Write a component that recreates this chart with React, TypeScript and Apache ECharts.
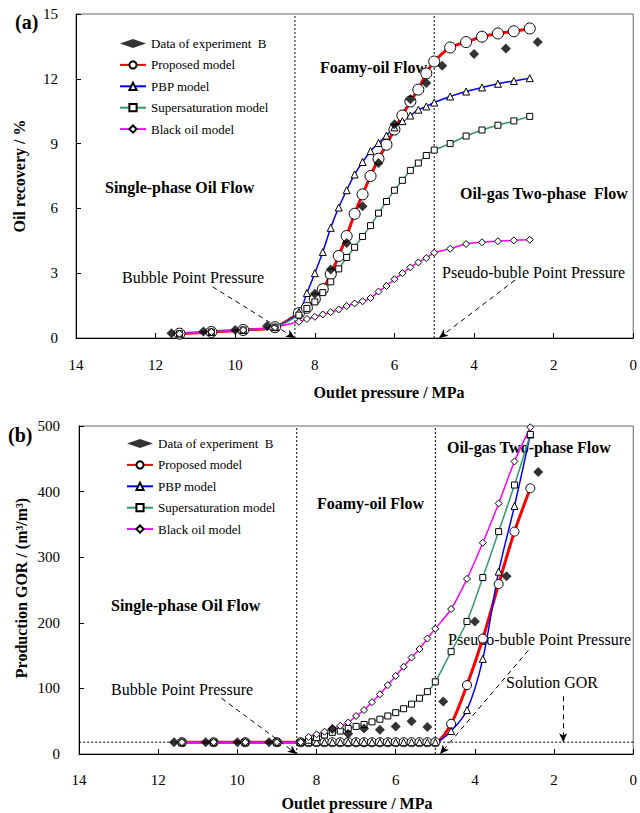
import React, { useEffect, useRef } from "react";
import * as echarts from "echarts";

// ---------- Data (a): Oil recovery ----------
const expP_a = [11.6, 10.8, 10.0, 9.2, 8.0, 7.6, 7.2, 6.8, 6.4, 6.0, 5.6, 5.2, 4.8, 4.0, 3.2, 2.4];
const expV_a = [0.22, 0.3, 0.37, 0.55, 2.05, 3.17, 4.4, 6.1, 8.1, 9.9, 11.05, 11.8, 12.6, 13.15, 13.4, 13.7];

const modelP = [11.4, 10.6, 9.8, 9.0, 8.4, 8.2, 8.0, 7.8, 7.6, 7.4, 7.2, 7.0, 6.8, 6.6, 6.4, 6.2, 6.0, 5.8, 5.6, 5.4, 5.2, 5.0, 4.6, 4.2, 3.8, 3.4, 3.0, 2.6];
const proposed_a = [0.2, 0.28, 0.37, 0.5, 1.15, 1.4, 1.8, 2.26, 2.95, 3.8, 4.72, 5.75, 6.65, 7.5, 8.3, 8.95, 9.65, 10.3, 10.95, 11.5, 12.25, 12.8, 13.45, 13.7, 13.95, 14.1, 14.2, 14.33];
const pbp_a = [0.2, 0.28, 0.37, 0.5, 1.2, 2.08, 3.0, 3.98, 5.1, 6.04, 6.84, 7.57, 8.15, 8.65, 9.03, 9.37, 9.75, 10.04, 10.3, 10.57, 10.72, 10.9, 11.18, 11.41, 11.6, 11.77, 11.9, 12.03];
const supersat_a = [0.2, 0.28, 0.37, 0.5, 1.06, 1.37, 1.67, 2.1, 2.6, 3.2, 3.73, 4.2, 4.7, 5.2, 5.78, 6.32, 6.84, 7.3, 7.76, 8.1, 8.45, 8.7, 9.0, 9.35, 9.63, 9.85, 10.05, 10.26];
const black_a = [0.2, 0.28, 0.37, 0.5, 0.75, 0.88, 0.98, 1.09, 1.2, 1.32, 1.48, 1.6, 1.7, 1.85, 2.15, 2.41, 2.72, 3.0, 3.27, 3.5, 3.7, 3.95, 4.13, 4.35, 4.43, 4.48, 4.52, 4.55];

// ---------- Data (b): Production GOR ----------
const expP_b = [11.6, 10.8, 10.0, 9.2, 7.6, 7.2, 6.8, 6.4, 6.0, 5.6, 5.2, 4.8, 4.0, 3.2, 2.4];
const expV_b = [18, 18, 18, 18, 38, 31, 39, 37, 42, 50, 41, 80, 202, 271, 430];
const proposed_b = [18, 18, 18, 18, 18, 18, 18, 18, 18, 18, 18, 18, 18, 18, 18, 18, 18, 18, 18, 18, 18, 18, 46, 105, 176, 259, 339, 405];
const pbp_b = [18, 18, 18, 18, 18, 18, 18, 18, 18, 18, 18, 18, 18, 18, 18, 18, 18, 18, 18, 18, 18, 18, 35, 67, 145, 278, 378, 487];
const supersat_b = [18, 18, 18, 18, 18, 21, 25, 29, 33, 35, 39, 42, 45, 49, 53, 58, 63, 69, 76, 85, 95, 110, 156, 202, 269, 339, 410, 487];
const black_b = [18, 18, 18, 18, 18, 26, 30, 34, 39, 43, 48, 58, 67, 79, 91, 105, 119, 133, 147, 160, 176, 191, 221, 267, 322, 382, 446, 498];

// ---------- Reference values ----------
const bubbleP = 8.5;
const pseudoP = 5.0;
const solutionGOR = 18;
const xTicksMin = 0, xTicksMax = 14, xInterval = 2;
const yMaxA = 15, yIntA = 3;
const yMaxB = 500, yIntB = 100;

// arrows [x1, y1, x2, y2]
const arrowBubbleA = [10.57, 2.37, 8.5, 0];
const arrowPseudoA = [2.97, 2.68, 4.88, 0];
const arrowBubbleB = [10.4, 85, 8.5, 0];
const arrowPseudoB = [2.65, 158, 4.88, 0];
const arrowGOR = [1.77, 88, 1.77, 18];

const legendNames = ["Data of experiment  B", "Proposed model", "PBP model", "Supersaturation model", "Black oil model"];

const FONT = "'Liberation Serif', 'Times New Roman', serif";

const zip = (xs: number[], ys: number[]) => xs.map((x, i) => [x, ys[i]]);

function modelSeries(idx: number, big: boolean, vals: number[][]) {
  const [prop, pbp, sup, blk] = vals;
  const mk = (name: string, data: number[], color: string, width: number, symbol: string, size: number) => ({
    name,
    type: "line",
    xAxisIndex: idx,
    yAxisIndex: idx,
    data: zip(modelP, data),
    smooth: 0.3,
    symbol,
    symbolSize: size,
    showSymbol: true,
    lineStyle: { color, width },
    itemStyle: { color: "#fff", borderColor: "#000", borderWidth: 1 },
    z: 3,
  });
  return [
    mk(legendNames[1], prop, "#ff0000", 3, "circle", big ? 11 : 9),
    mk(legendNames[2], pbp, "#0000ff", 1.5, "triangle", 7),
    mk(legendNames[3], sup, "#339966", 1.5, "rect", 6),
    mk(legendNames[4], blk, "#ff00ff", 1.5, "diamond", 7),
  ];
}

function arrowLine(a: number[]) {
  return [{ coord: [a[0], a[1]] }, { coord: [a[2], a[3]] }];
}

function refSeries(idx: number, yMax: number, arrows: number[][], withGOR: boolean) {
  const dotted = { color: "#000", width: 1, type: [2, 2] as any };
  const s: any[] = [
    {
      name: "ref-bubble-" + idx,
      type: "line",
      xAxisIndex: idx,
      yAxisIndex: idx,
      data: [[bubbleP, 0], [bubbleP, yMax]],
      symbol: "none",
      lineStyle: dotted,
      silent: true,
      z: 1,
      markLine: {
        silent: true,
        symbol: ["none", "arrow"],
        symbolSize: [6, 9],
        label: { show: false },
        lineStyle: { color: "#000", width: 1, type: [5, 4] },
        data: arrows.map(arrowLine),
      },
    },
    {
      name: "ref-pseudo-" + idx,
      type: "line",
      xAxisIndex: idx,
      yAxisIndex: idx,
      data: [[pseudoP, 0], [pseudoP, yMax]],
      symbol: "none",
      lineStyle: dotted,
      silent: true,
      z: 1,
    },
  ];
  if (withGOR) {
    s.push({
      name: "ref-gor",
      type: "line",
      xAxisIndex: idx,
      yAxisIndex: idx,
      data: [[xTicksMin, solutionGOR], [xTicksMax, solutionGOR]],
      symbol: "none",
      lineStyle: dotted,
      silent: true,
      z: 1,
    });
  }
  return s;
}

function xAxis(idx: number, margin: number, fs: number) {
  return {
    gridIndex: idx,
    type: "value",
    min: xTicksMin,
    max: xTicksMax,
    interval: xInterval,
    inverse: true,
    axisLine: { onZero: false, lineStyle: { color: "#000", width: 1 } },
    axisTick: { inside: true, length: 5, lineStyle: { color: "#000" } },
    axisLabel: { margin, fontSize: fs, fontFamily: FONT, color: "#000" },
    splitLine: { show: false },
  };
}

function yAxis(idx: number, max: number, interval: number, margin: number, fs: number) {
  return {
    gridIndex: idx,
    type: "value",
    min: 0,
    max,
    interval,
    axisLine: { show: true, onZero: false, lineStyle: { color: "#000", width: 1 } },
    axisTick: { show: true, inside: true, length: 5, lineStyle: { color: "#000" } },
    axisLabel: { margin, fontSize: fs, fontFamily: FONT, color: "#000" },
    splitLine: { show: false },
  };
}

function txt(text: string, x: number, y: number, opts: any = {}) {
  return {
    type: "text",
    x,
    y,
    rotation: opts.rotation || 0,
    z: 0,
    style: {
      text,
      fill: "#000",
      fontFamily: FONT,
      fontSize: opts.size || 16,
      fontWeight: opts.bold ? "bold" : "normal",
      align: opts.align || "left",
      verticalAlign: "middle",
    },
  };
}

function legend(left: number, top: number) {
  return {
    orient: "vertical",
    left,
    top,
    padding: 0,
    itemWidth: 26,
    itemHeight: 9,
    itemGap: 8.4,
    data: legendNames,
    textStyle: { fontFamily: FONT, fontSize: 13, color: "#000" },
    selectedMode: false,
  };
}

export default function App() {
  const ref = useRef<HTMLDivElement>(null);
  useEffect(() => {
    if (!ref.current) return;
    const chart = echarts.init(ref.current, undefined, { renderer: "svg" });
    const option: any = {
      animation: false,
      backgroundColor: "#fff",
      grid: [
        { left: 76, top: 14, width: 558, height: 324, show: true, borderColor: "#666", borderWidth: 1, backgroundColor: "transparent" },
        { left: 79, top: 426, width: 555, height: 328, show: true, borderColor: "#666", borderWidth: 1, backgroundColor: "transparent" },
      ],
      xAxis: [xAxis(0, 19, 15), xAxis(1, 18, 15)],
      yAxis: [yAxis(0, yMaxA, yIntA, 18, 15), yAxis(1, yMaxB, yIntB, 19, 15)],
      legend: [legend(119, 37), legend(126, 437)],
      graphic: [
        txt("(a)", 15, 22, { bold: true, size: 20 }),
        txt("(b)", 8, 435, { bold: true, size: 20 }),
        txt("Oil recovery / %", 19, 176, { bold: true, rotation: Math.PI / 2, align: "center" }),
        txt("Production GOR / (m³/m³)", 21, 588, { bold: true, rotation: Math.PI / 2, align: "center" }),
        txt("Outlet pressure / MPa", 389, 392, { bold: true, align: "center" }),
        txt("Outlet pressure / MPa", 357, 803, { bold: true, align: "center" }),
        txt("Foamy-oil Flow", 320, 67, { bold: true }),
        txt("Single-phase Oil Flow", 105, 187, { bold: true }),
        txt("Oil-gas Two-phase  Flow", 460, 193, { bold: true }),
        txt("Oil-gas Two-phase Flow", 447, 447, { bold: true }),
        txt("Foamy-oil Flow", 317, 503, { bold: true }),
        txt("Single-phase Oil Flow", 111, 605, { bold: true }),
        txt("Bubble Point Pressure", 122, 277),
        txt("Pseudo-buble Point Pressure", 442, 272),
        txt("Bubble Point Pressure", 111, 689),
        txt("Pseudo-buble Point Pressure", 448, 639),
        txt("Solution GOR", 506, 682),
      ],
      series: [
        ...refSeries(0, yMaxA, [arrowBubbleA, arrowPseudoA], false),
        ...refSeries(1, yMaxB, [arrowBubbleB, arrowPseudoB, arrowGOR], true),
        ...modelSeries(0, true, [proposed_a, pbp_a, supersat_a, black_a]),
        ...modelSeries(1, false, [proposed_b, pbp_b, supersat_b, black_b]),
        {
          name: legendNames[0],
          type: "scatter",
          xAxisIndex: 0,
          yAxisIndex: 0,
          data: zip(expP_a, expV_a),
          symbol: "diamond",
          symbolSize: 10,
          itemStyle: { color: "#000" },
          z: 5,
        },
        {
          name: legendNames[0],
          type: "scatter",
          xAxisIndex: 1,
          yAxisIndex: 1,
          data: zip(expP_b, expV_b),
          symbol: "diamond",
          symbolSize: 10,
          itemStyle: { color: "#000" },
          z: 5,
        },
      ],
    };
    chart.setOption(option);
    return () => chart.dispose();
  }, []);
  return <div ref={ref} style={{ position: "absolute", left: 0, top: 0, width: 640, height: 813 }} />;
}
